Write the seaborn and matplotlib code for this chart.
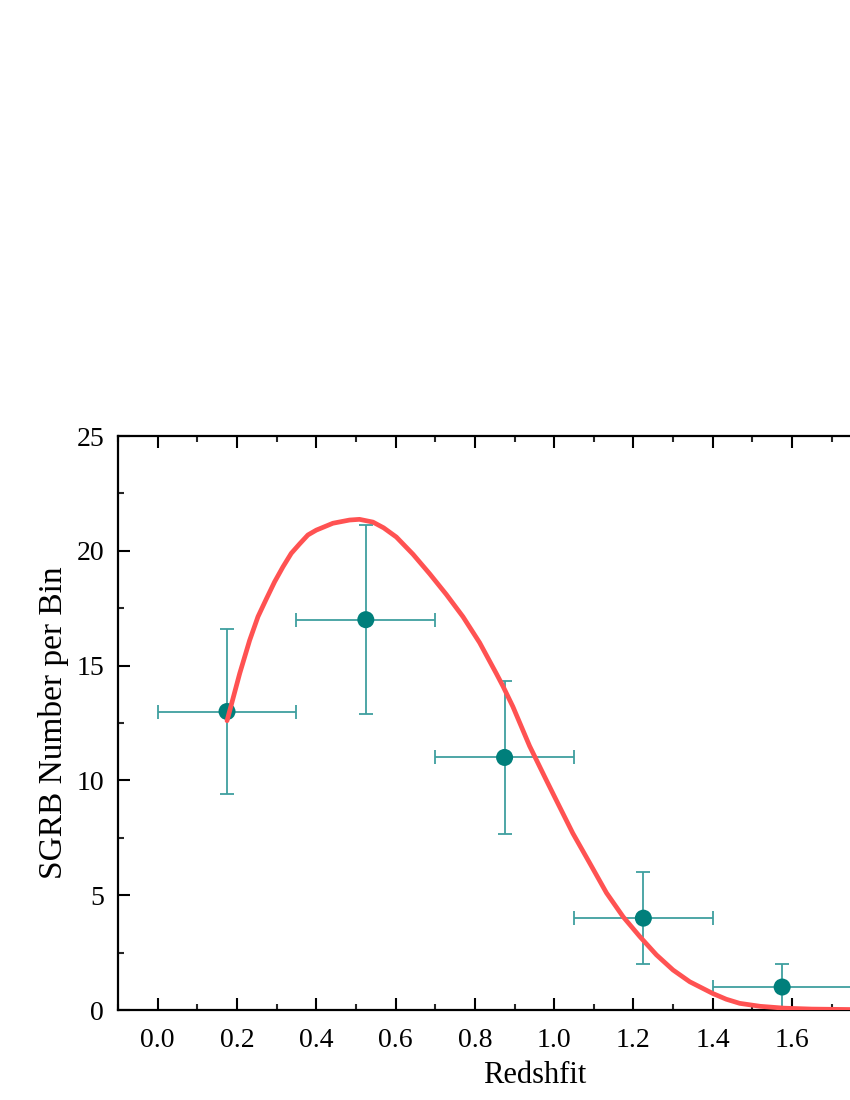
import numpy as np
import pandas as pd
import matplotlib
matplotlib.use("Agg")
import matplotlib.pyplot as plt
import seaborn as sns
from matplotlib.ticker import MultipleLocator

# ---- data ----
bin_centers = [0.175, 0.525, 0.875, 1.225, 1.575]
bin_halfwidth = [0.175, 0.175, 0.175, 0.175, 0.175]
counts = [13, 17, 11, 4, 1]
count_err = [3.61, 4.12, 3.32, 2.0, 1.0]

curve_z = [0.175, 0.207, 0.232, 0.253, 0.274, 0.295, 0.316, 0.337, 0.358,
           0.379, 0.40, 0.442, 0.484, 0.509, 0.543, 0.570, 0.602, 0.644,
           0.686, 0.728, 0.770, 0.812, 0.854, 0.871, 0.896, 0.938, 0.980,
           1.005, 1.047, 1.090, 1.132, 1.174, 1.216, 1.258, 1.30, 1.342,
           1.40, 1.434, 1.468, 1.52, 1.58, 1.65, 1.75, 1.85, 2.0]
curve_n = [12.6, 14.66, 16.1, 17.13, 17.9, 18.65, 19.3, 19.89, 20.3,
           20.69, 20.9, 21.2, 21.34, 21.37, 21.25, 21.0, 20.6, 19.85,
           19.0, 18.1, 17.13, 16.0, 14.66, 14.1, 13.21, 11.5, 10.02,
           9.15, 7.7, 6.39, 5.1, 4.06, 3.2, 2.40, 1.74, 1.23,
           0.72, 0.47, 0.29, 0.16, 0.08, 0.04, 0.02, 0.01, 0.0]

xticks = [0.0, 0.2, 0.4, 0.6, 0.8, 1.0, 1.2, 1.4, 1.6, 1.8, 2.0]
xticklabels = ["0.0", "0.2", "0.4", "0.6", "0.8", "1.0", "1.2", "1.4", "1.6", "", ""]
yticks = [0, 5, 10, 15, 20, 25]

sns.set_style("ticks")
plt.rcParams['font.family'] = ['Liberation Serif', 'DejaVu Serif']

fig = plt.figure(figsize=(8.5, 11), dpi=100)
xmin, xmax = -0.1, 2.0
px_per_unit = 396.5
left = 118 / 850
bottom = 1 - 1010 / 1100
height = (1010 - 436) / 1100
width = (xmax - xmin) * px_per_unit / 850
ax = fig.add_axes([left, bottom, width, height])

df_pts = pd.DataFrame({"z": bin_centers, "n": counts})
df_curve = pd.DataFrame({"z": curve_z, "n": curve_n})

ax.errorbar(bin_centers, counts, xerr=bin_halfwidth, yerr=count_err, fmt="none",
            ecolor="#3f9f9f", elinewidth=1.3, capsize=5, capthick=1.3, zorder=2)
sns.scatterplot(data=df_pts, x="z", y="n", ax=ax, color="#007f7b", s=150,
                edgecolor="none", zorder=3, legend=False)
sns.lineplot(data=df_curve, x="z", y="n", ax=ax, color="#ff5252", linewidth=3.4,
             zorder=4, legend=False, solid_joinstyle="round", solid_capstyle="round")

ax.set_xlim(xmin, xmax)
ax.set_ylim(0, 25)
ax.set_xticks(xticks)
ax.set_xticklabels(xticklabels)
ax.set_yticks(yticks)
ax.xaxis.set_minor_locator(MultipleLocator(0.1))
ax.yaxis.set_minor_locator(MultipleLocator(2.5))
ax.tick_params(which="major", direction="in", length=8.5, width=1.5,
               top=True, right=True, labelsize=20, colors="black")
ax.tick_params(axis="x", which="major", pad=13)
ax.tick_params(axis="y", which="major", pad=10)
ax.tick_params(which="minor", direction="in", length=4.5, width=1.5,
               top=True, right=True)
for s in ax.spines.values():
    s.set_linewidth(1.6)
    s.set_color("black")
    s.set_visible(True)

ax.set_xlabel("Redshfit", fontsize=22, labelpad=6, color="black")
ax.set_ylabel("SGRB Number per Bin", fontsize=24, labelpad=5, color="black")

fig.savefig("out.png", dpi=100)
